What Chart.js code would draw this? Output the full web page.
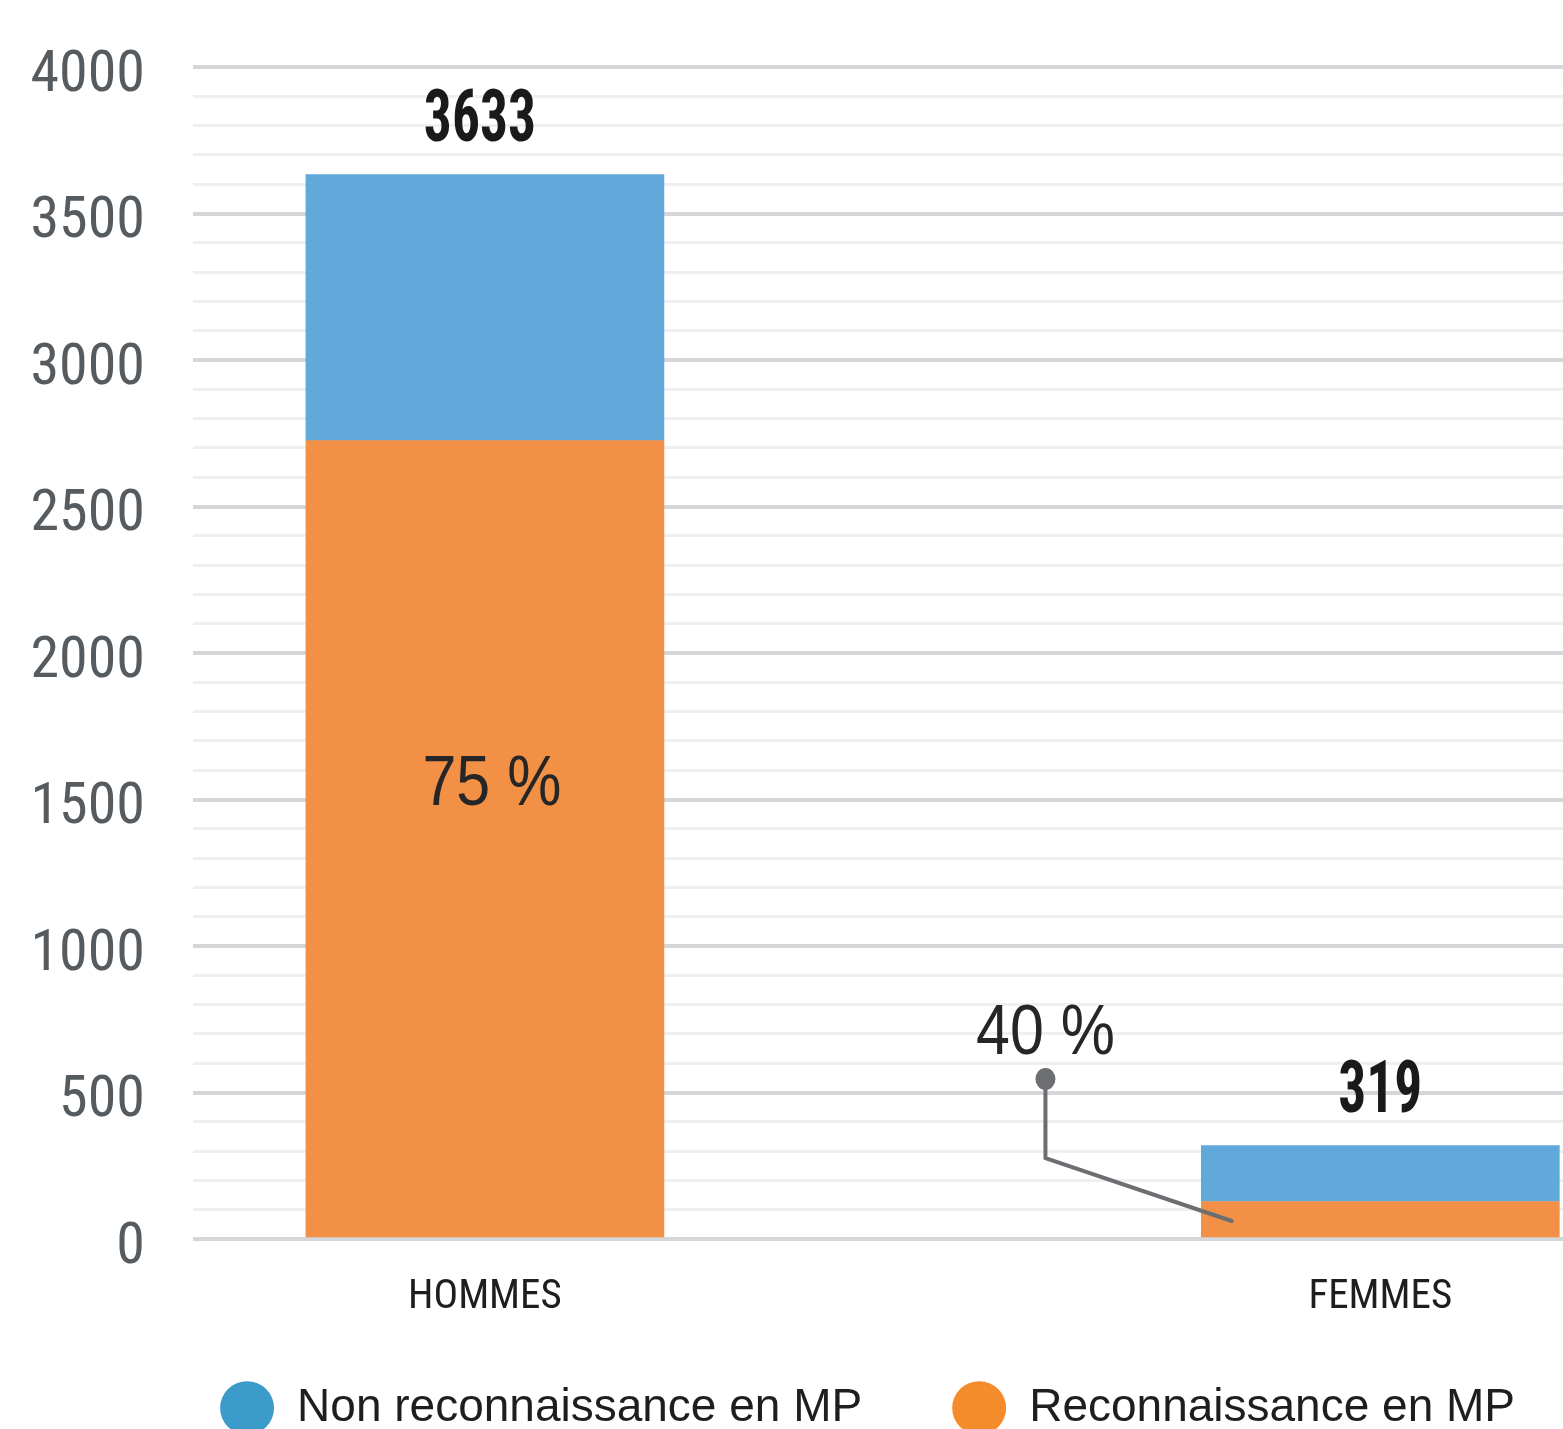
<!DOCTYPE html>
<html><head><meta charset="utf-8">
<script src="https://cdn.jsdelivr.net/npm/chart.js@4/dist/chart.umd.min.js"></script>
<style>html,body{margin:0;padding:0;background:#fff;overflow:hidden}canvas{display:block}</style>
</head><body>
<canvas id="c" width="1563" height="1469" style="width:1563px;height:1469px"></canvas>
<script>
const categories = ['HOMMES', 'FEMMES'];
const reconnaissance = [2725, 128];
const nonReconnaissance = [908, 191];
const seriesNames = ['Reconnaissance en MP', 'Non reconnaissance en MP'];
const yTickLabels = [0, 500, 1000, 1500, 2000, 2500, 3000, 3500, 4000];
const yMinorStep = 100;

const barColors = ['#f29046', '#61a8db'];
const legendColors = ['#f48c2c', '#3b9bcb'];
const NARROW = '"Roboto Condensed", "Liberation Sans Narrow", "DejaVu Sans Condensed", sans-serif';
const SANS = '"Liberation Sans", Arial, sans-serif';

const toPoints = arr => arr.map((v, i) => ({x: i, y: v}));

function squeezedText(ctx, text, x, y, sx) {
  ctx.save();
  ctx.translate(x, y);
  ctx.scale(sx, 1);
  ctx.fillText(text, 0, 0);
  ctx.restore();
}

const annot = {
  id: 'annot',
  afterLayout(chart) {
    const l = chart.legend;
    if (l) { l.left += 42; l.right += 42; l.top -= 28; l.bottom -= 28; }
  },
  afterDatasetsDraw(chart) {
    const {ctx, scales: {x, y}} = chart;
    ctx.save();
    ctx.textAlign = 'center';
    ctx.textBaseline = 'middle';
    ctx.fillStyle = '#1a1a1a';
    ctx.font = 'bold 72px ' + NARROW;
    categories.forEach((c, i) => {
      const total = reconnaissance[i] + nonReconnaissance[i];
      squeezedText(ctx, String(total), x.getPixelForValue(i) - (i === 0 ? 5 : 0), y.getPixelForValue(total) - 52, 0.77);
    });
    const pct = i => Math.round(reconnaissance[i] / (reconnaissance[i] + nonReconnaissance[i]) * 100) + ' %';
    ctx.font = '70px ' + SANS;
    ctx.fillStyle = '#262626';
    squeezedText(ctx, pct(0), x.getPixelForValue(0) + 7, y.getPixelForValue(reconnaissance[0] * 0.568), 0.87);
    const cx = x.getPixelForValue(1 - 0.374);
    squeezedText(ctx, pct(1), cx, y.getPixelForValue(697), 0.87);
    ctx.strokeStyle = '#6d6e71';
    ctx.lineWidth = 4;
    ctx.lineJoin = 'round';
    ctx.lineCap = 'round';
    ctx.beginPath();
    ctx.moveTo(cx, y.getPixelForValue(546));
    ctx.lineTo(cx, y.getPixelForValue(276));
    ctx.lineTo(x.getPixelForValue(0.834), y.getPixelForValue(reconnaissance[1] * 0.48));
    ctx.stroke();
    ctx.fillStyle = '#6d6e71';
    ctx.beginPath();
    ctx.ellipse(cx, y.getPixelForValue(546), 10, 11, 0, 0, Math.PI * 2);
    ctx.fill();
    ctx.restore();
  }
};

new Chart(document.getElementById('c'), {
  type: 'bar',
  data: {
    datasets: [
      {label: seriesNames[0], data: toPoints(reconnaissance), backgroundColor: barColors[0], borderWidth: 0},
      {label: seriesNames[1], data: toPoints(nonReconnaissance), backgroundColor: barColors[1], borderWidth: 0}
    ]
  },
  options: {
    responsive: false,
    animation: false,
    devicePixelRatio: 1,
    barThickness: 358,
    layout: {padding: {top: 67, left: 0, right: 0, bottom: 0}},
    scales: {
      x: {
        type: 'linear',
        stacked: true,
        offset: false,
        min: -0.326,
        max: 1.204,
        afterBuildTicks: s => { s.ticks = categories.map((c, i) => ({value: i})); },
        afterFit: s => { s.height = 84; },
        grid: {display: false, drawTicks: false},
        border: {display: false},
        ticks: {
          autoSkip: false,
          maxRotation: 0,
          padding: 34,
          color: '#1e1e1e',
          font: {family: NARROW, size: 41},
          callback: v => categories[v] ?? ''
        }
      },
      y: {
        stacked: true,
        min: 0,
        max: yTickLabels[yTickLabels.length - 1],
        afterFit: s => { s.width = 193; },
        border: {display: false},
        grid: {
          drawTicks: true,
          tickLength: 48,
          tickColor: 'rgba(0,0,0,0)',
          color: c => yTickLabels.includes(c.tick.value) ? '#d4d6d8' : '#eeeff0',
          lineWidth: c => yTickLabels.includes(c.tick.value) ? 4 : 3
        },
        ticks: {
          stepSize: yMinorStep,
          maxTicksLimit: 1000,
          autoSkip: false,
          padding: 0,
          labelOffset: 9,
          color: '#565b5f',
          font: {family: NARROW, size: 58},
          callback: v => yTickLabels.includes(v) ? String(v) : ''
        }
      }
    },
    plugins: {
      tooltip: {enabled: false},
      legend: {
        position: 'bottom',
        align: 'end',
        reverse: true,
        labels: {
          usePointStyle: true,
          pointStyle: 'circle',
          pointStyleWidth: 54,
          boxHeight: 38,
          padding: 90,
          color: '#1e1e1e',
          font: {family: SANS, size: 46},
          generateLabels: chart => {
            const items = Chart.defaults.plugins.legend.labels.generateLabels(chart);
            items.forEach(it => {
              it.fillStyle = legendColors[it.datasetIndex];
              it.strokeStyle = legendColors[it.datasetIndex];
              it.lineWidth = 0;
            });
            return items;
          }
        }
      }
    }
  },
  plugins: [annot]
});
</script>
</body></html>
